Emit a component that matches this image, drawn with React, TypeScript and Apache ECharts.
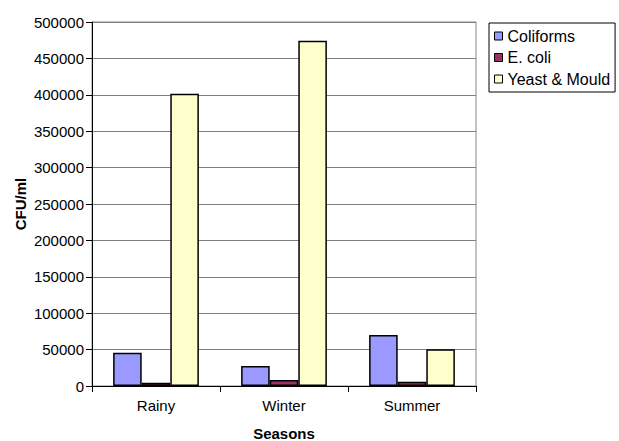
import React, { useEffect, useRef } from "react";
import * as echarts from "echarts";

const seasons = ["Rainy", "Winter", "Summer"];
const seriesNames = ["Coliforms", "E. coli", "Yeast & Mould"];
const coliforms = [45700, 27500, 70000];
const eColi = [4500, 8200, 6000];
const yeastMould = [401500, 474300, 50400];
const colors = ["#9999FF", "#993366", "#FFFFCC"];

const FONT = "Liberation Sans, Arial, sans-serif";

export default function App() {
  const ref = useRef<HTMLDivElement>(null);
  useEffect(() => {
    if (!ref.current) return;
    const chart = echarts.init(ref.current, null, { renderer: "svg" });
    const values = [coliforms, eColi, yeastMould];
    chart.setOption({
      animation: false,
      textStyle: { fontFamily: FONT },
      grid: {
        left: 92,
        right: 143,
        top: 22,
        bottom: 55,
        outerBoundsMode: "none",
        show: true,
        borderColor: "#888",
        borderWidth: 1,
      },
      legend: {
        orient: "vertical",
        left: 489,
        top: 23,
        padding: [5, 5, 5, 5],
        itemGap: 5.5,
        itemWidth: 8,
        itemHeight: 8,
        icon: "rect",
        borderColor: "#000",
        borderWidth: 1,
        textStyle: { fontSize: 16, color: "#000", fontFamily: FONT },
        itemStyle: { borderColor: "#000", borderWidth: 1 },
        data: seriesNames,
      },
      xAxis: {
        type: "category",
        data: seasons,
        name: "Seasons",
        nameLocation: "middle",
        nameGap: 40,
        nameMoveOverlap: false,
        nameTextStyle: { fontSize: 15, fontWeight: "bold", color: "#000", fontFamily: FONT },
        axisLine: { lineStyle: { color: "#000", width: 1 } },
        axisTick: { show: true, length: 6, lineStyle: { color: "#000" } },
        axisLabel: { fontSize: 15, color: "#000", margin: 12, fontFamily: FONT },
      },
      yAxis: {
        type: "value",
        min: 0,
        max: 500000,
        interval: 50000,
        name: "CFU/ml",
        nameLocation: "middle",
        nameRotate: 90,
        nameGap: 64,
        nameMoveOverlap: false,
        nameTextStyle: { fontSize: 15, fontWeight: "bold", color: "#000", fontFamily: FONT },
        axisLine: { show: true, lineStyle: { color: "#000", width: 1 } },
        axisTick: { show: true, length: 6, lineStyle: { color: "#000" } },
        axisLabel: {
          fontSize: 15,
          color: "#000",
          margin: 8,
          fontFamily: FONT,
          formatter: (v: number) => String(v),
        },
        splitLine: { show: true, lineStyle: { color: "#808080", width: 1 } },
      },
      series: seriesNames.map((name, i) => ({
        name,
        type: "bar",
        data: values[i],
        barGap: "0%",
        barCategoryGap: "33%",
        itemStyle: { color: colors[i], borderColor: "#000", borderWidth: 1.5 },
      })),
    });
    return () => chart.dispose();
  }, []);
  return <div ref={ref} style={{ width: 619, height: 441, position: "absolute", left: 0, top: 0 }} />;
}
